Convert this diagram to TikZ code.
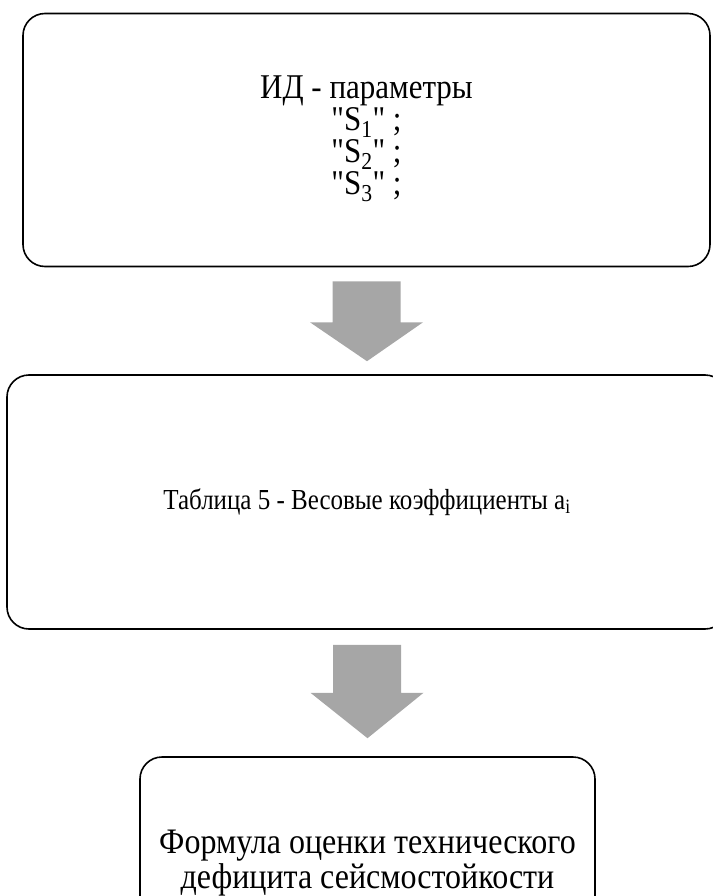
\documentclass[tikz,border=0pt]{standalone}
\usepackage{fontspec}
\setmainfont{Liberation Serif}
\usetikzlibrary{calc}
\definecolor{arrgray}{RGB}{166,166,166}
\newcommand{\dq}{\textquotedbl}
\newcommand{\tallstack}[1]{\scalebox{1}[1.12]{\begin{tabular}{@{}c@{}}#1\end{tabular}}}
\tikzset{
  box/.style={draw=black, line width=1.6bp, rounded corners=22bp, align=center, inner sep=0pt},
  blockarrow/.style={fill=arrgray, draw=none},
}
\begin{document}
\begin{tikzpicture}[x=1bp,y=-1bp]
\useasboundingbox (0,0) rectangle (713,896);
\clip (0,0) rectangle (713,896);
\node[box, minimum width=687bp, minimum height=253bp,
      font=\fontsize{31bp}{26.8bp}\selectfont] (b1) at (366.5,140)
  {\tallstack{ИД - параметры\\\dq S\textsubscript{1}\dq{} ;\\\dq S\textsubscript{2}\dq{} ;\\\dq S\textsubscript{3}\dq{} ;}};
\node[box, minimum width=720bp, minimum height=254bp,
      font=\fontsize{25bp}{30bp}\selectfont] (b2) at (367,502)
  {\scalebox{1}[1.16]{Таблица 5 - Весовые коэффициенты a\textsubscript{i}}};
\node[box, minimum width=455bp, minimum height=214bp,
      font=\fontsize{32bp}{31.25bp}\selectfont] (b3) at (367.5,864)
  {\tallstack{Формула оценки технического\\дефицита сейсмостойкости}};
% block arrows
\fill[blockarrow] ($(b1.south)+(-34,14)$) -- ($(b1.south)+(34,14)$) -- ($(b1.south)+(34,55)$)
  -- ($(b1.south)+(56.5,55)$) -- ($(b2.north)+(0,-13)$) -- ($(b1.south)+(-56.5,55)$)
  -- ($(b1.south)+(-34,55)$) -- cycle;
\fill[blockarrow] ($(b2.south)+(-34,15)$) -- ($(b2.south)+(34,15)$) -- ($(b2.south)+(34,63)$)
  -- ($(b2.south)+(56.5,63)$) -- ($(b3.north)+(0,-18)$) -- ($(b2.south)+(-56.5,63)$)
  -- ($(b2.south)+(-34,63)$) -- cycle;
\end{tikzpicture}
\end{document}
